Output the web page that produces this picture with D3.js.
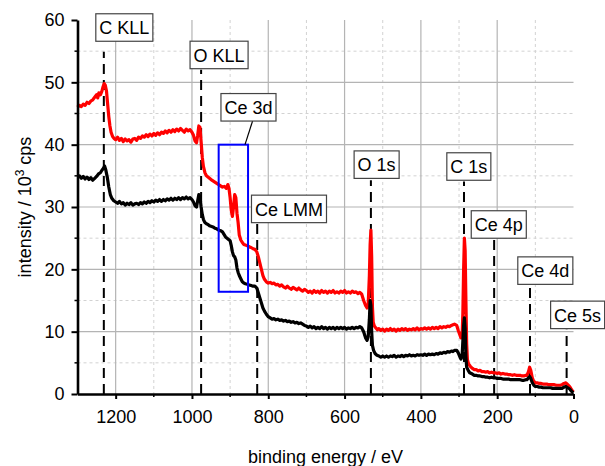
<!DOCTYPE html>
<html>
<head>
<meta charset="utf-8">
<script src="https://cdn.jsdelivr.net/npm/d3@7"></script>
<style>
  html, body { margin: 0; padding: 0; background: #fff; }
  svg { display: block; }
  text { font-family: "Liberation Sans", Arial, sans-serif; fill: #000; }
</style>
</head>
<body>
<svg id="chart" width="605" height="466"></svg>
<script>
// ---------------- data ----------------
const xTicks = [1200, 1000, 800, 600, 400, 200, 0];
const xMinorTicks = [1300, 1100, 900, 700, 500, 300, 100];
const yTicks = [0, 10, 20, 30, 40, 50, 60];
const yMinorTicks = [5, 15, 25, 35, 45, 55];

// red spectrum: [binding energy (eV), intensity (10^3 cps)]
const redSpectrum = [
  [1300,46.0],[1295,46.3],[1290,46.1],[1285,46.5],[1280,46.3],[1275,46.8],[1270,46.6],[1265,47.0],
  [1260,47.2],[1255,47.6],[1250,48.0],[1247,47.5],[1244,48.3],[1240,48.0],[1236,48.6],[1233,49.3],
  [1230,49.8],[1227,49.5],[1224,48.6],[1221,46.5],[1218,44.5],[1215,43.0],[1212,42.0],[1208,41.3],
  [1204,41.0],[1200,40.8],[1195,41.2],[1190,40.7],[1185,41.0],[1180,40.5],[1175,40.9],[1170,40.6],
  [1165,40.8],[1160,40.4],[1155,40.9],[1150,41.0],[1145,40.7],[1140,41.2],[1135,41.0],[1130,41.4],
  [1125,41.2],[1120,41.6],[1115,41.3],[1110,41.7],[1105,41.4],[1100,41.8],[1095,41.5],[1090,41.9],
  [1085,41.6],[1080,42.0],[1075,41.8],[1070,42.2],[1065,41.9],[1060,42.3],[1055,42.0],[1050,42.4],
  [1045,42.1],[1040,42.5],[1035,42.2],[1030,42.6],[1025,42.3],[1020,42.0],[1015,42.5],[1010,42.2],
  [1005,42.4],[1000,42.0],[996,41.5],[992,40.6],[988,40.3],[985,41.5],[982,43.0],[979,42.8],
  [976,40.5],[973,38.0],[970,36.5],[966,35.5],[962,35.0],[958,34.8],[954,34.6],[950,34.4],
  [945,34.2],[940,34.0],[935,33.8],[930,33.6],[925,33.4],[920,33.2],[915,33.3],[910,33.0],
  [906,33.6],[903,33.0],[900,31.5],[897,29.5],[894,28.5],[891,30.0],[888,32.0],[885,31.5],
  [882,29.0],[879,27.5],[876,25.5],[872,24.7],[868,24.3],[864,24.0],[860,23.9],[855,23.8],
  [850,23.6],[845,23.5],[840,23.3],[835,23.2],[830,22.8],[826,22.0],[822,21.0],[818,20.0],
  [814,19.0],[810,18.4],[805,18.0],[800,17.8],[795,17.9],[790,17.7],[785,17.8],[780,17.5],
  [775,17.6],[770,17.3],[765,17.5],[760,17.2],[755,17.0],[750,17.3],[745,17.0],[740,16.8],
  [735,17.1],[730,16.9],[725,16.7],[720,17.0],[715,16.7],[710,16.5],[705,16.8],[700,16.6],
  [695,16.3],[690,16.5],[685,16.2],[680,16.6],[675,16.3],[670,16.5],[665,16.2],[660,16.6],
  [655,16.3],[650,16.5],[645,16.2],[640,16.5],[635,16.3],[630,16.6],[625,16.2],[620,16.4],
  [615,16.2],[610,16.5],[605,16.3],[600,16.6],[595,16.2],[590,16.4],[585,16.2],[580,16.5],
  [575,16.3],[570,16.4],[565,16.1],[560,16.3],[555,16.0],[550,15.0],[545,14.2],[541,13.8],
  [538,14.5],[535,19.0],[533,24.0],[531,26.3],[529,22.0],[527,14.0],[525,11.5],[522,10.9],
  [518,10.6],[514,10.3],[510,10.5],[505,10.2],[500,10.4],[495,10.1],[490,10.4],[485,10.2],
  [480,10.5],[475,10.2],[470,10.4],[465,10.1],[460,10.4],[455,10.2],[450,10.5],[445,10.3],
  [440,10.5],[435,10.2],[430,10.4],[425,10.3],[420,10.5],[415,10.3],[410,10.6],[405,10.3],
  [400,10.5],[395,10.4],[390,10.6],[385,10.4],[380,10.6],[375,10.4],[370,10.7],[365,10.5],
  [360,10.7],[355,10.5],[350,10.8],[345,10.6],[340,10.8],[335,10.7],[330,10.9],[325,10.8],
  [320,11.0],[316,11.1],[312,11.2],[306,11.0],[302,10.2],[298,9.5],[295,9.0],[292,9.2],
  [290,13.0],[288,20.0],[286,25.0],[284,23.0],[282,15.0],[280,8.0],[278,5.5],[275,4.8],
  [270,4.4],[265,4.1],[260,3.9],[255,3.9],[250,3.7],[245,3.8],[240,3.6],[235,3.6],[230,3.5],
  [225,3.6],[220,3.4],[215,3.5],[210,3.4],[205,3.4],[200,3.3],[195,3.4],[190,3.2],[185,3.3],
  [180,3.2],[175,3.2],[170,3.1],[165,3.1],[160,3.0],[155,3.1],[150,3.0],[145,3.0],[140,3.0],
  [135,2.9],[130,2.9],[125,3.0],[122,3.0],[118,3.6],[115,4.3],[112,3.8],[108,2.6],[104,2.0],
  [100,1.8],[95,1.8],[90,1.7],[85,1.7],[80,1.6],[75,1.6],[70,1.6],[65,1.5],[60,1.5],[55,1.5],
  [50,1.5],[45,1.4],[40,1.4],[35,1.4],[30,1.5],[25,1.7],[20,1.8],[15,1.5],[10,1.2],[6,0.8],
  [3,0.5],[0,0.3]
];

// black spectrum
const blackSpectrum = [
  [1300,34.8],[1295,35.0],[1290,34.6],[1285,34.9],[1280,34.5],[1275,34.8],[1270,34.4],[1265,34.7],
  [1260,34.3],[1255,34.6],[1250,34.9],[1245,35.3],[1240,35.5],[1236,35.9],[1232,36.2],[1229,36.6],
  [1226,36.0],[1222,34.8],[1218,33.2],[1214,32.0],[1210,31.4],[1205,31.0],[1200,30.8],[1195,30.6],
  [1190,30.9],[1185,30.5],[1180,30.7],[1175,30.3],[1170,30.6],[1165,30.4],[1160,30.7],[1155,30.3],
  [1150,30.5],[1145,30.6],[1140,30.4],[1135,30.7],[1130,30.5],[1125,30.8],[1120,30.6],[1115,30.9],
  [1110,30.7],[1105,31.0],[1100,30.8],[1095,31.1],[1090,30.9],[1085,31.2],[1080,30.9],[1075,31.2],
  [1070,31.0],[1065,31.3],[1060,31.1],[1055,31.4],[1050,31.1],[1045,31.4],[1040,31.2],[1035,31.5],
  [1030,31.2],[1025,31.5],[1020,31.3],[1015,31.6],[1010,31.3],[1005,31.5],[1000,31.2],[996,30.8],
  [992,30.2],[988,30.0],[985,31.0],[982,32.0],[979,31.6],[976,30.0],[973,28.8],[970,28.0],
  [966,27.5],[962,27.3],[958,27.2],[954,27.0],[950,26.9],[945,26.8],[940,26.6],[935,26.5],
  [930,26.3],[925,26.2],[920,26.0],[916,25.6],[912,25.2],[908,25.0],[904,24.8],[900,24.6],
  [897,23.8],[894,22.8],[891,22.2],[888,22.0],[885,21.5],[882,20.2],[879,19.5],[876,19.0],
  [872,18.5],[868,18.0],[864,17.8],[860,17.7],[855,17.6],[850,17.5],[845,17.4],[840,17.3],
  [835,17.3],[830,17.0],[826,16.2],[822,15.4],[818,14.6],[814,13.8],[810,13.3],[805,12.8],
  [800,12.4],[795,12.2],[790,12.0],[785,12.1],[780,11.9],[775,12.0],[770,11.8],[765,11.9],
  [760,11.7],[755,11.8],[750,11.6],[745,11.7],[740,11.5],[735,11.6],[730,11.4],[725,11.5],
  [720,11.3],[715,11.4],[710,11.2],[705,11.0],[700,10.9],[695,10.7],[690,10.9],[685,10.6],
  [680,10.8],[675,10.5],[670,10.7],[665,10.5],[660,10.8],[655,10.5],[650,10.7],[645,10.4],
  [640,10.7],[635,10.5],[630,10.7],[625,10.4],[620,10.7],[615,10.5],[610,10.7],[605,10.5],
  [600,10.7],[595,10.4],[590,10.6],[585,10.5],[580,10.7],[575,10.5],[570,10.7],[565,10.6],
  [560,10.8],[555,10.6],[550,10.0],[545,9.0],[541,8.6],[538,9.2],[535,12.0],[533,15.0],
  [531,14.2],[529,10.0],[527,7.8],[524,7.0],[520,6.5],[515,6.2],[510,6.1],[505,5.9],
  [500,6.1],[495,5.9],[490,6.1],[485,5.9],[480,6.1],[475,6.0],[470,6.2],[465,5.9],[460,6.1],
  [455,6.0],[450,6.2],[445,6.0],[440,6.2],[435,6.1],[430,6.3],[425,6.1],[420,6.2],[415,6.1],
  [410,6.3],[405,6.2],[400,6.3],[395,6.2],[390,6.4],[385,6.2],[380,6.4],[375,6.3],[370,6.4],
  [365,6.3],[360,6.5],[355,6.4],[350,6.6],[345,6.5],[340,6.7],[335,6.6],[330,6.8],[325,6.7],
  [320,6.9],[316,6.8],[312,7.0],[306,7.0],[302,6.6],[298,6.0],[295,5.6],[292,6.0],[290,8.5],
  [288,11.0],[286,12.2],[284,10.5],[282,6.0],[280,4.3],[276,3.8],[272,3.4],[265,3.2],[260,3.0],
  [255,3.0],[250,2.9],[245,2.9],[240,2.8],[235,2.8],[230,2.7],[225,2.7],[220,2.6],[215,2.7],
  [210,2.6],[205,2.6],[200,2.5],[195,2.5],[190,2.5],[185,2.4],[180,2.4],[175,2.4],[170,2.4],
  [165,2.3],[160,2.3],[155,2.3],[150,2.3],[145,2.3],[140,2.3],[135,2.2],[130,2.2],[125,2.3],
  [122,2.3],[118,2.6],[115,2.8],[112,2.5],[108,1.8],[104,1.4],[100,1.2],[95,1.2],[90,1.1],
  [85,1.1],[80,1.0],[75,1.0],[70,1.0],[65,1.0],[60,1.0],[55,0.9],[50,0.9],[45,0.9],[40,0.9],
  [35,0.9],[30,0.9],[25,1.1],[20,1.2],[15,1.0],[10,0.8],[6,0.5],[3,0.3],[0,0.2]
];

// peak assignments
const peakNames    = ["C KLL", "O KLL", "Ce 3d", "Ce LMM", "O 1s", "C 1s", "Ce 4p", "Ce 4d", "Ce 5s"];
const peakEnergies = [1231, 976, null, 829, 531, 287, 208, 114, 18];

// Ce 3d region highlighted by the blue box: energy range and intensity range
const ce3dRange = [930, 853];
const ce3dIntensity = [16.4, 40];

// ---------------- layout ----------------
const W = 605, H = 466;
const margin = { left: 77.5, right: 31.5, top: 20, bottom: 72 };
const svg = d3.select("#chart");

const x = d3.scaleLinear().domain([1300, 0]).range([margin.left, W - margin.right]);
const y = d3.scaleLinear().domain([0, 60]).range([H - margin.bottom, margin.top]);

// label box layout (in data units): box left energy, box top intensity, dashed line top intensity
const labelLayout = {
  "C KLL":  { left: 1252, top: 61.0, lineTop: 54.9 },
  "O KLL":  { left: 1005, top: 56.6, lineTop: 52.0 },
  "Ce 3d":  { left: 924,  top: 48.2 },
  "Ce LMM": { left: 844,  top: 31.9, lineTop: 27.3 },
  "O 1s":   { left: 575,  top: 39.0, lineTop: 34.3 },
  "C 1s":   { left: 332,  top: 38.7, lineTop: 34.1 },
  "Ce 4p":  { left: 268,  top: 29.4, lineTop: 24.7 },
  "Ce 4d":  { left: 146,  top: 22.0, lineTop: 17.5 },
  "Ce 5s":  { left: 60,   top: 14.9, lineTop: 10.3 }
};
const ce3dLeader = [[838, 44.4], [861, 40]];

// ---------------- grid ----------------
const grid = svg.append("g");
grid.selectAll("line.vmin").data(xMinorTicks.filter(d => d !== 1300)).enter().append("line")
  .attr("x1", d => x(d)).attr("x2", d => x(d)).attr("y1", y(60)).attr("y2", y(0))
  .attr("stroke", "#d2d2d2").attr("stroke-width", 1).attr("stroke-dasharray", "3,3");
grid.selectAll("line.hmin").data(yMinorTicks).enter().append("line")
  .attr("x1", x(1300)).attr("x2", x(0)).attr("y1", d => y(d)).attr("y2", d => y(d))
  .attr("stroke", "#d2d2d2").attr("stroke-width", 1).attr("stroke-dasharray", "3,3");
grid.selectAll("line.vmaj").data(xTicks.filter(d => d !== 0)).enter().append("line")
  .attr("x1", d => x(d)).attr("x2", d => x(d)).attr("y1", y(60)).attr("y2", y(0))
  .attr("stroke", "#b4b4b4").attr("stroke-width", 1.2);
grid.selectAll("line.hmaj").data(yTicks.filter(d => d !== 0 && d !== 60)).enter().append("line")
  .attr("x1", x(1300)).attr("x2", x(0)).attr("y1", d => y(d)).attr("y2", d => y(d))
  .attr("stroke", "#b4b4b4").attr("stroke-width", 1.2);

// ---------------- dashed peak lines ----------------
const peaks = peakNames.map((n, i) => ({ name: n, e: peakEnergies[i], lay: labelLayout[n] }));
svg.append("g").selectAll("line").data(peaks.filter(p => p.e !== null)).enter().append("line")
  .attr("x1", d => x(d.e)).attr("x2", d => x(d.e))
  .attr("y1", y(0)).attr("y2", d => y(d.lay.lineTop))
  .attr("stroke", "#000").attr("stroke-width", 2).attr("stroke-dasharray", "10,6");

// ---------------- spectra ----------------
const line = d3.line().x(d => x(d[0])).y(d => y(d[1]));
svg.append("path").datum(redSpectrum).attr("d", line)
  .attr("fill", "none").attr("stroke", "#ff0000").attr("stroke-width", 3.2).attr("stroke-linejoin", "round");
svg.append("path").datum(blackSpectrum).attr("d", line)
  .attr("fill", "none").attr("stroke", "#000").attr("stroke-width", 3.2).attr("stroke-linejoin", "round");

// ---------------- Ce 3d box ----------------
svg.append("rect")
  .attr("x", x(ce3dRange[0])).attr("y", y(ce3dIntensity[1]))
  .attr("width", x(ce3dRange[1]) - x(ce3dRange[0]))
  .attr("height", y(ce3dIntensity[0]) - y(ce3dIntensity[1]))
  .attr("fill", "none").attr("stroke", "#0000ff").attr("stroke-width", 2);
svg.append("line")
  .attr("x1", x(ce3dLeader[0][0])).attr("y1", y(ce3dLeader[0][1]))
  .attr("x2", x(ce3dLeader[1][0])).attr("y2", y(ce3dLeader[1][1]))
  .attr("stroke", "#000").attr("stroke-width", 1.2);

// ---------------- axes ----------------
const xAxis = svg.append("g").attr("transform", `translate(0,${y(0)})`)
  .call(d3.axisBottom(x).tickValues(xTicks).tickSize(5).tickSizeOuter(0).tickFormat(d3.format("d")));
xAxis.select(".domain").attr("stroke", "#000").attr("stroke-width", 2.6);
xAxis.selectAll(".tick line").attr("stroke", "#000").attr("stroke-width", 2);
xAxis.selectAll(".tick text").attr("font-size", 18).attr("dy", "1.15em")
  .style("font-family", "'Liberation Sans', Arial, sans-serif");
svg.append("g").selectAll("line").data(xMinorTicks.filter(d => d !== 1300)).enter().append("line")
  .attr("x1", d => x(d)).attr("x2", d => x(d)).attr("y1", y(0)).attr("y2", y(0) + 3)
  .attr("stroke", "#000").attr("stroke-width", 1.5);

const yAxis = svg.append("g").attr("transform", `translate(${x(1300)},0)`)
  .call(d3.axisLeft(y).tickValues(yTicks).tickSize(6).tickSizeOuter(0).tickPadding(7));
yAxis.select(".domain").attr("stroke", "#000").attr("stroke-width", 2.6);
yAxis.selectAll(".tick line").attr("stroke", "#000").attr("stroke-width", 2);
yAxis.selectAll(".tick text").attr("font-size", 18)
  .style("font-family", "'Liberation Sans', Arial, sans-serif");
svg.append("g").selectAll("line").data(yMinorTicks).enter().append("line")
  .attr("x1", x(1300) - 3).attr("x2", x(1300)).attr("y1", d => y(d)).attr("y2", d => y(d))
  .attr("stroke", "#000").attr("stroke-width", 1.5);

// axis titles
svg.append("text").attr("x", (x(1300) + x(0)) / 2).attr("y", 463)
  .attr("text-anchor", "middle").attr("font-size", 18).text("binding energy / eV");
const yt = svg.append("text").attr("transform", `translate(31,${(y(0) + y(60)) / 2}) rotate(-90)`)
  .attr("text-anchor", "middle").attr("font-size", 18);
yt.append("tspan").text("intensity / 10");
yt.append("tspan").attr("font-size", 12).attr("dy", -7).text("3");
yt.append("tspan").attr("dy", 7).text(" cps");

// ---------------- label boxes ----------------
const lbl = svg.append("g");
peaks.forEach(p => {
  const g = lbl.append("g");
  const bx = x(p.lay.left), by = y(p.lay.top);
  const rect = g.append("rect").attr("fill", "#fff").attr("stroke", "#444").attr("stroke-width", 1.2);
  const t = g.append("text").attr("x", bx + 3.5).attr("y", by + 20.5).attr("font-size", 18).text(p.name);
  const w = t.node().getComputedTextLength();
  rect.attr("x", bx).attr("y", by).attr("width", w + 7).attr("height", 27.5);
});
</script>
</body>
</html>
